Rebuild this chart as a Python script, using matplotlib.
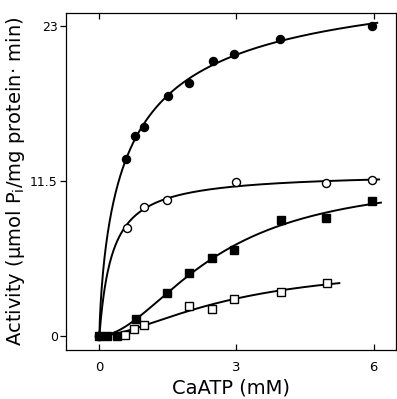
import numpy as np
import matplotlib
matplotlib.use("Agg")
import matplotlib.pyplot as plt

# --- data ---
fc_x = [0.0, 0.58, 0.77, 0.97, 1.50, 1.96, 2.49, 2.95, 3.95, 5.97]
fc_y = [0.0, 13.1, 14.8, 15.5, 17.8, 18.8, 20.4, 20.9, 22.0, 23.0]

oc_x = [0.0, 0.60, 0.98, 1.47, 2.98, 4.96, 5.97]
oc_y = [0.0, 8.0, 9.6, 10.1, 11.4, 11.37, 11.55]

fs_x = [0.0, 0.17, 0.39, 0.80, 1.47, 1.96, 2.46, 2.95, 3.98, 4.96, 5.97]
fs_y = [0.0, 0.0, 0.0, 1.26, 3.2, 4.7, 5.76, 6.35, 8.6, 8.75, 10.0]

os_x = [0.56, 0.76, 0.97, 1.97, 2.46, 2.95, 3.97, 4.98]
os_y = [0.05, 0.55, 0.85, 2.25, 2.0, 2.78, 3.24, 3.96]

x_ticks = [0, 3, 6]
y_ticks = [0, 11.5, 23]
y_ticklabels = ["0", "11.5", "23"]

curve_end = {"fc": 6.08, "oc": 6.12, "fs": 6.16, "os": 5.25}


def hill_fit(x, y, n_range):
    """Least-squares Hill fit V*x^n/(K^n+x^n) by grid search on K, n."""
    x = np.asarray(x, float)
    y = np.asarray(y, float)
    best = None
    for n in n_range:
        for K in np.linspace(0.05, 8.0, 240):
            f = x**n / (K**n + x**n)
            denom = np.dot(f, f)
            if denom == 0:
                continue
            V = np.dot(f, y) / denom
            err = np.sum((V * f - y) ** 2)
            if best is None or err < best[0]:
                best = (err, V, K, n)
    _, V, K, n = best
    return lambda t: V * t**n / (K**n + t**n)


fig = plt.figure(figsize=(3.97, 3.99), dpi=100)
ax = fig.add_axes([66 / 397, 1 - 350 / 399, 330 / 397, 337 / 399])

lw = 1.4
ms = 5.8
series = [
    (fc_x, fc_y, "o", "black", "fc", np.linspace(0.4, 1.0, 31)),
    (oc_x, oc_y, "o", "white", "oc", np.linspace(0.4, 1.0, 31)),
    (fs_x, fs_y, "s", "black", "fs", np.linspace(1.0, 3.5, 51)),
    (os_x, os_y, "s", "white", "os", np.linspace(1.0, 3.5, 51)),
]
for xs, ys, mk, fcol, key, nr in series:
    f = hill_fit(xs, ys, nr)
    t = np.linspace(0, curve_end[key], 600)
    ax.plot(t, f(t), color="black", lw=lw, zorder=2)
    ax.plot(xs, ys, linestyle="none", marker=mk, markersize=ms,
            markerfacecolor=fcol, markeredgecolor="black",
            markeredgewidth=1.0, zorder=3)

ax.set_xlim(-0.73, 6.49)
ax.set_ylim(-1.04, 23.96)
ax.set_xticks(x_ticks)
ax.set_yticks(y_ticks)
ax.set_yticklabels(y_ticklabels)
ax.tick_params(axis="x", direction="in", top=True, length=4, width=0.9,
               labelsize=9.5, pad=8)
ax.tick_params(axis="y", direction="out", length=4, width=0.9,
               labelsize=9, pad=2)
for s in ax.spines.values():
    s.set_linewidth(0.9)

ax.set_xlabel("CaATP (mM)", fontsize=14, labelpad=3)
ax.set_ylabel("Activity (\u03bcmol P$_\\mathregular{i}$/mg protein\u00b7 min)",
              fontsize=14)
ax.yaxis.set_label_coords(-0.118, 0.5)

fig.savefig("out.png", dpi=100)
